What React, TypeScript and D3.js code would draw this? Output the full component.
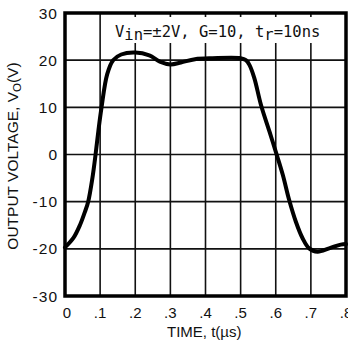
import React from "react";
import * as d3 from "d3";

const timeData = [0, 0.024, 0.043, 0.057, 0.066, 0.078, 0.087, 0.095, 0.104, 0.12, 0.137, 0.16, 0.2, 0.24, 0.27, 0.3, 0.33, 0.37, 0.42, 0.5, 0.515, 0.525, 0.539, 0.558, 0.582, 0.6, 0.62, 0.638, 0.657, 0.676, 0.695, 0.719, 0.752, 0.785, 0.8];
const voltData = [-19.7, -17.7, -14.9, -12.1, -10, -5, 0, 5, 10, 17, 20, 21.2, 21.6, 21, 19.7, 19.1, 19.5, 20.2, 20.4, 20.4, 20.0, 19, 16.2, 10.5, 4.9, 0.6, -4.3, -9.6, -14.2, -17.7, -19.9, -20.6, -19.9, -19.1, -19];
const xTicks = [0, 0.1, 0.2, 0.3, 0.4, 0.5, 0.6, 0.7, 0.8];
const xTickLabels = ["0", ".1", ".2", ".3", ".4", ".5", ".6", ".7", ".8"];
const yTicks = [30, 20, 10, 0, -10, -20, -30];
const yTickLabels = ["30", "20", "10", "0", "-10", "-20", "-30"];

export default function App() {
  const W = 348, H = 342;
  const L = 65, R = 346, T = 13, B = 296;
  const x = d3.scaleLinear().domain([0, 0.8]).range([L, R]);
  const y = d3.scaleLinear().domain([-30, 30]).range([B, T]);
  const pts = timeData.map((t, i) => [t, voltData[i]] as [number, number]);
  const line = d3.line<[number, number]>().x(d => x(d[0])).y(d => y(d[1])).curve(d3.curveCatmullRom.alpha(0.5));
  const font = "'Liberation Sans', Arial, sans-serif";
  return (
    <svg width={W} height={H} style={{ position: "absolute", left: 0, top: 0, background: "#fff" }}>
      <rect x={0} y={0} width={W} height={H} fill="#fff" />
      {xTicks.map(t => (
        <line key={"gx" + t} x1={x(t)} x2={x(t)} y1={T} y2={B} stroke="#111" strokeWidth={1.6} />
      ))}
      {yTicks.map(v => (
        <line key={"gy" + v} x1={L} x2={R} y1={y(v)} y2={y(v)} stroke="#111" strokeWidth={1.6} />
      ))}
      <rect x={106} y={17} width={234} height={26} fill="#fff" />
      <text x={115} y={37} fontFamily="'DejaVu Sans Mono', 'Liberation Mono', monospace" fontSize={15.5} fill="#111">
        V<tspan dy={3}>in</tspan><tspan dy={-3}>=±2V, G=10, t</tspan><tspan dy={3}>r</tspan><tspan dy={-3}>=10ns</tspan>
      </text>
      <path d={line(pts) || ""} fill="none" stroke="#000" strokeWidth={4} strokeLinejoin="round" strokeLinecap="round" />
      <rect x={L} y={T} width={R - L} height={B - T} fill="none" stroke="#000" strokeWidth={3.5} />
      {yTicks.map((v, i) => (
        <text key={"yl" + v} x={58} y={y(v) + 5.5} textAnchor="end" fontFamily={font} fontSize={15.5} letterSpacing={1} fill="#111">
          {yTickLabels[i]}
        </text>
      ))}
      {xTicks.map((t, i) => (
        <text key={"xl" + t} x={x(t) + (i === 0 ? 2 : 0)} y={318} textAnchor="middle" fontFamily={font} fontSize={15} fill="#111">
          {xTickLabels[i]}
        </text>
      ))}
      <text x={167} y={337} fontFamily={font} fontSize={15} fill="#111">TIME, t(µs)</text>
      <text transform={`translate(18, 156) rotate(-90)`} textAnchor="middle" fontFamily={font} fontSize={15.5} fill="#111">
        OUTPUT VOLTAGE, V<tspan dy={3} fontSize={11.5}>O</tspan><tspan dy={-3}>(V)</tspan>
      </text>
    </svg>
  );
}
